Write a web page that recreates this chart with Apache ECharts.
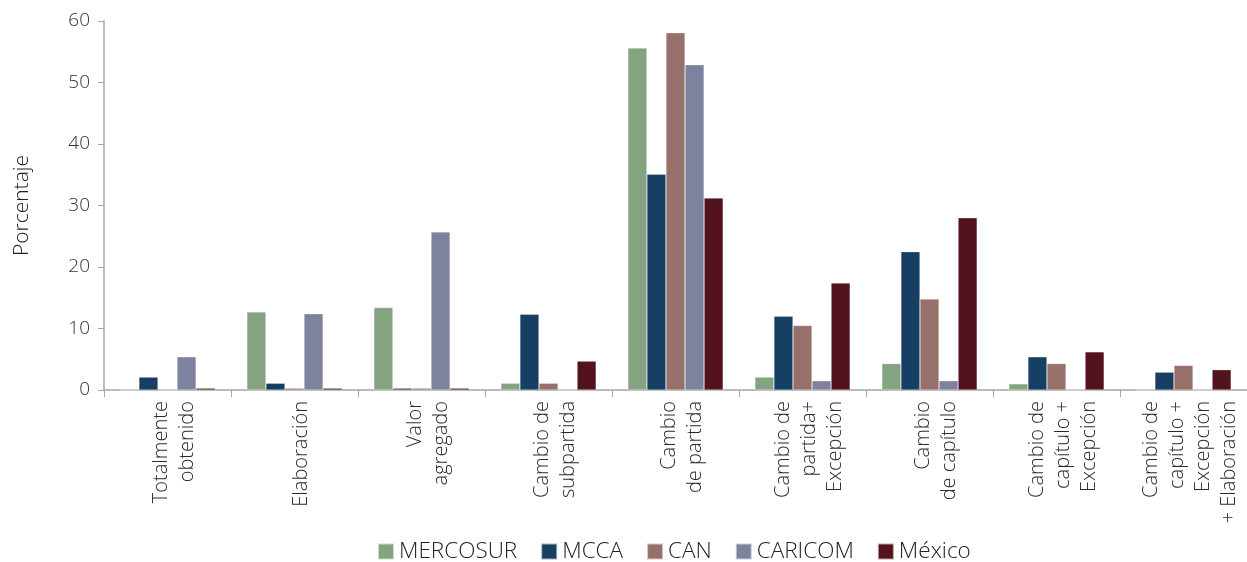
<!DOCTYPE html>
<html><head><meta charset="utf-8">
<script src="https://cdn.jsdelivr.net/npm/echarts@6/dist/echarts.min.js"></script>
<style>html,body{margin:0;padding:0;background:#fff}#c{width:1247px;height:562px}</style>
</head><body><div id="c"></div>
<script>
const categories = ["Totalmente\nobtenido","Elaboración","Valor\nagregado","Cambio de\nsubpartida","Cambio\nde partida","Cambio de\npartida+\nExcepción","Cambio\nde capítulo","Cambio de\ncapítulo +\nExcepción","Cambio de\ncapítulo +\nExcepción\n+ Elaboración"];
const seriesNames = ["MERCOSUR","MCCA","CAN","CARICOM","México"];
const mercosur = [0, 12.7, 13.4, 1.1, 55.6, 2.1, 4.3, 1.0, 0];
const mcca     = [2.1, 1.1, 0.3, 12.3, 35.1, 12.0, 22.5, 5.4, 2.9];
const can      = [0, 0.3, 0.3, 1.1, 58.1, 10.5, 14.8, 4.3, 4.0];
const caricom  = [5.4, 12.4, 25.7, 0, 52.9, 1.5, 1.5, 0, 0];
const mexico   = [0.3, 0.3, 0.3, 4.7, 31.2, 17.4, 28.0, 6.2, 3.3];
const yTicks = [0, 10, 20, 30, 40, 50, 60];
const colors = ["#84a380","#163f63","#98706b","#7e829e","#52121e"];
const values = [mercosur, mcca, can, caricom, mexico];
const FONT = "'Open Sans', 'Noto Sans', sans-serif";
const chart = echarts.init(document.getElementById('c'));
chart.setOption({
  animation: false,
  textStyle: {fontFamily: FONT},
  grid: {left: 104, top: 21, right: -7, bottom: 172, containLabel: false},
  legend: {
    top: 540, left: 377, padding: 0, itemWidth: 16, itemHeight: 16, itemGap: 23,
    icon: 'rect',
    textStyle: {fontSize: 22.5, color: '#222', fontWeight: 300, fontFamily: FONT},
    data: seriesNames
  },
  xAxis: {
    type: 'category', data: categories,
    axisLine: {lineStyle: {color: '#a6a6a6', width: 1.5}},
    axisTick: {show: true, length: 7, lineStyle: {color: '#a6a6a6'}},
    axisLabel: {
      rotate: 90, interval: 0, margin: 11,
      formatter: v => '{s| }\n' + v.split('\n').map(l => '{a|' + l + '}').join('\n'),
      rich: {
        s: {fontSize: 1, lineHeight: 14},
        a: {fontSize: 20, fontWeight: 300, color: '#2a2a2a', lineHeight: 26, fontFamily: FONT}
      }
    }
  },
  yAxis: {
    type: 'value', min: yTicks[0], max: yTicks[yTicks.length-1], interval: 10,
    name: 'Porcentaje', nameLocation: 'middle', nameGap: 71, nameRotate: 90,
    nameTextStyle: {fontSize: 21, fontWeight: 300, color: '#222', fontFamily: FONT},
    axisLine: {show: true, lineStyle: {color: '#a6a6a6', width: 1.5}},
    axisTick: {show: true, length: 6, lineStyle: {color: '#a6a6a6'}},
    splitLine: {show: false},
    axisLabel: {fontSize: 19, fontWeight: 300, color: '#333', margin: 14, fontFamily: FONT}
  },
  series: seriesNames.map((n, i) => ({
    name: n, type: 'bar', data: values[i],
    barGap: '0%', barCategoryGap: '25%',
    itemStyle: {color: colors[i], borderColor: 'rgba(255,255,255,0.6)', borderWidth: 0.5}
  }))
});
</script></body></html>
